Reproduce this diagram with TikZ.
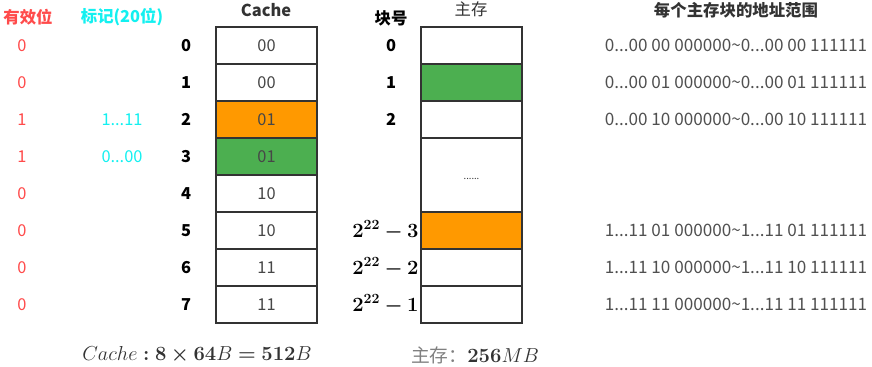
\documentclass[tikz,border=0pt]{standalone}
\usepackage{fontspec}
\setmainfont{Noto Sans CJK SC}
\usepackage{amsmath,bm}
\usepackage{tikz}
\usetikzlibrary{positioning}
\definecolor{lineC}{HTML}{333333}
\definecolor{hitO}{HTML}{FF9900}
\definecolor{hitG}{HTML}{4CAF50}
\definecolor{validR}{HTML}{FF4B4B}
\definecolor{tagC}{HTML}{13F0F0}
\definecolor{addrC}{HTML}{505050}

\begin{document}
\begin{tikzpicture}[x=0.03cm,y=-0.03cm,
        txt/.style={font=\fontsize{14}{16}\selectfont},
        cell/.style={draw=lineC,line width=1.7pt,minimum width=3.03cm,minimum height=1.11cm,
            inner sep=0pt,txt,text=lineC!90},
        idx/.style={font=\fontsize{14}{16}\selectfont\bfseries},
        valid/.style={txt,text=validR},
        tag/.style={txt,text=tagC},
        addr/.style={font=\fontsize{14.6}{16}\selectfont,text=addrC},
        head/.style={font=\fontsize{14}{16}\selectfont\bfseries},
        mathlbl/.style={font=\fontsize{16.5}{20}\selectfont}]
    \useasboundingbox (0,0) rectangle (872,367);

    % headers
    \node[head,text=validR] (hValid) at (28,17) {有效位};
    \node[head,text=tagC] (hTag) at (122,17) {标记(20位)};
    \node[head,text=lineC] (hCache) at (266,10) {Cache};
    \node[head] (hBlk) at (391,18) {块号};
    \node[txt,text=lineC] (hMem) at (471,9) {主存};
    \node[head,text=lineC] (hAddr) at (736,10) {每个主存块的地址范围};

    % cache lines
    \foreach \i/\t/\v in {0/00/0,1/00/0,2/01/1,3/01/1,4/10/0,5/10/0,6/11/0,7/11/0} {
        \node[cell] (c\i) at (266.5,45.5+37*\i) {\t};
        \node[idx] (ci\i) at (186,45.5+37*\i) {\i};
        \node[valid] (v\i) at (22,45.5+37*\i) {\v};
    }
    \node[cell,fill=hitO] at (c2) {01};
    \node[cell,fill=hitG] at (c3) {01};
    \node[tag] (t2) at (v2 -| hTag) {1...11};
    \node[tag] (t3) at (v3 -| hTag) {0...00};

    % main memory
    \node[cell] (m0) at (471.5,45.5) {};
    \node[cell,fill=hitG] (m1) at (471.5,82.5) {};
    \node[cell] (m2) at (471.5,119.5) {};
    \node[cell,minimum height=2.22cm] (mdots) at (471.5,175) {};
    \node[font=\fontsize{8}{10}\selectfont,text=lineC] at (471.5,179) {......};
    \node[cell,fill=hitO] (m3) at (471.5,230.5) {};
    \node[cell] (m4) at (471.5,267.5) {};
    \node[cell] (m5) at (471.5,304.5) {};

    \node[idx] (b0) at (m0 -| hBlk) {0};
    \node[idx] (b1) at (m1 -| hBlk) {1};
    \node[idx] (b2) at (m2 -| hBlk) {2};
    \node[mathlbl,left=0pt of m3.west,inner sep=1pt] (b3) {$\bm{2^{22}-3}$};
    \node[mathlbl,left=0pt of m4.west,inner sep=1pt] (b4) {$\bm{2^{22}-2}$};
    \node[mathlbl,left=0pt of m5.west,inner sep=1pt] (b5) {$\bm{2^{22}-1}$};

    % address ranges
    \node[addr] (a0) at (m0 -| hAddr) {0...00 00 000000\textasciitilde0...00 00 111111};
    \node[addr] (a1) at (m1 -| hAddr) {0...00 01 000000\textasciitilde0...00 01 111111};
    \node[addr] (a2) at (m2 -| hAddr) {0...00 10 000000\textasciitilde0...00 10 111111};
    \node[addr] (a3) at (m3 -| hAddr) {1...11 01 000000\textasciitilde1...11 01 111111};
    \node[addr] (a4) at (m4 -| hAddr) {1...11 10 000000\textasciitilde1...11 10 111111};
    \node[addr] (a5) at (m5 -| hAddr) {1...11 11 000000\textasciitilde1...11 11 111111};

    % sizes
    \node[mathlbl,text=lineC] (sCache) at (197,355) {$Cache\bm{:8\times 64}B\bm{=512}B$};
    \node[mathlbl,text=lineC] (sMem) at (475,355) {\textcolor{gray}{\fontsize{16}{18}\selectfont 主存：}$\bm{256}MB$};
\end{tikzpicture}
\end{document}
